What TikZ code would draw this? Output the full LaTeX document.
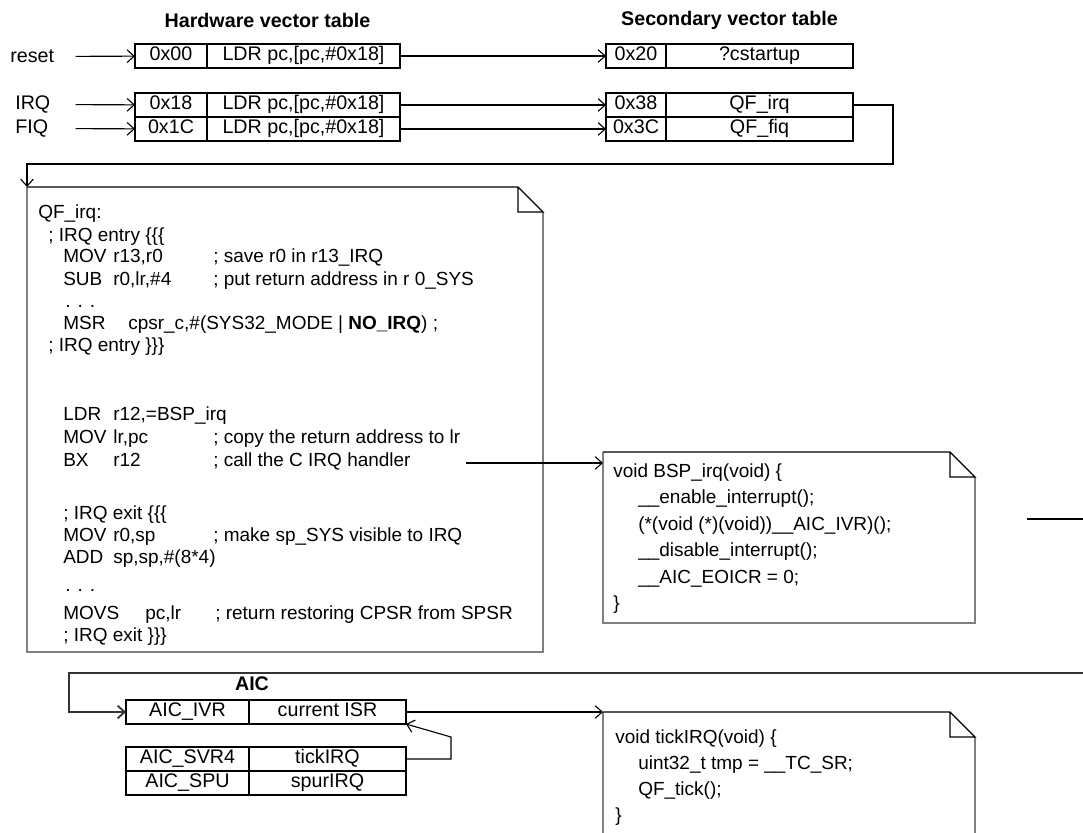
\documentclass[tikz,border=0pt]{standalone}
\usepackage{fontspec}
\setmainfont{Liberation Sans}
\usetikzlibrary{arrows.meta,positioning}

\newlength\pxl
\setlength\pxl{0.025cm}
\newcommand\op[2]{\makebox[#1\pxl][l]{#2}}
\definecolor{notegray}{gray}{0.5}
\definecolor{wiredark}{gray}{0.2}

% folded-corner outline of a note node
\newcommand\foldnote[1]{%
  \draw[line width=1pt,notegray] ([yshift=-25\pxl]#1.north east) -- (#1.south east) -- (#1.south west) -- (#1.north west);
  \draw[line width=0.9pt] (#1.north west) -- ([xshift=-25\pxl]#1.north east) -- ([yshift=-25\pxl]#1.north east)
    -- ([xshift=-25\pxl,yshift=-25\pxl]#1.north east) -- ([xshift=-25\pxl]#1.north east);
}

\tikzset{
  >={Straight Barb[length=5pt,width=9pt]},
  cell/.style={draw,line width=0.9pt,inner sep=0pt,outer sep=0pt,minimum height=24\pxl,
    text height=10pt,text depth=3pt,font=\fontsize{14}{16}\selectfont},
  title/.style={inner sep=0pt,font=\fontsize{14}{16}\selectfont\bfseries},
  lbl/.style={anchor=west,inner sep=0pt,align=left,font=\fontsize{14}{16}\selectfont},
  code/.style={anchor=base west,inner sep=0pt,font=\fontsize{13.5}{16}\selectfont},
  notebox/.style={inner sep=0pt,outer sep=0pt,anchor=north west},
  wire/.style={line width=0.8pt},
  aicwire/.style={line width=1.3pt,draw=wiredark},
}

\begin{document}
\begin{tikzpicture}[x=0.025cm,y=-0.025cm]
\useasboundingbox (0,0) rectangle (1083,833);

% vector tables
\node[title] (hwtitle) at (267.5,20) {Hardware vector table};
\node[title] (svtitle) at (729.5,20) {Secondary vector table};

\node[lbl,text width=65\pxl] (lreset) at (10,56.5) {reset};
\node[lbl,text width=60\pxl] (lirq) at (15,104.5) {IRQ};
\node[lbl,text width=60\pxl] (lfiq) at (15,128.5) {FIQ};

\node[cell,anchor=north west,minimum width=72\pxl] (hwa0) at (135,44) {0x00};
\node[cell,anchor=west,minimum width=193\pxl] (hwb0) at (hwa0.east) {LDR pc,[pc,\#0x18]};
\node[cell,anchor=north west,minimum width=72\pxl] (hwa1) at (135,93) {0x18};
\node[cell,anchor=west,minimum width=193\pxl] (hwb1) at (hwa1.east) {LDR pc,[pc,\#0x18]};
\node[cell,below=0pt of hwa1,minimum width=72\pxl] (hwa2) {0x1C};
\node[cell,below=0pt of hwb1,minimum width=193\pxl] (hwb2) {LDR pc,[pc,\#0x18]};

\node[cell,anchor=north west,minimum width=60\pxl] (sva0) at (606,44) {0x20};
\node[cell,anchor=west,minimum width=187\pxl] (svb0) at (sva0.east) {?cstartup};
\node[cell,anchor=north west,minimum width=60\pxl] (sva1) at (606,93) {0x38};
\node[cell,anchor=west,minimum width=187\pxl] (svb1) at (sva1.east) {QF\_irq};
\node[cell,below=0pt of sva1,minimum width=60\pxl] (sva2) {0x3C};
\node[cell,below=0pt of svb1,minimum width=187\pxl] (svb2) {QF\_fiq};

\draw[->,wire] (lreset) -- (hwa0);
\draw[->,wire] (lirq) -- (hwa1);
\draw[->,wire] (lfiq) -- (hwa2);
\draw[->,wire] (hwb0) -- (sva0);
\draw[->,wire] (hwb1) -- (sva1);
\draw[->,wire] (hwb2) -- (sva2);

% QF_irq note
\node[notebox,minimum width=516\pxl,minimum height=465\pxl] (qfnote) at (27,187) {};
\foldnote{qfnote}
\coordinate (qfturn) at (893,164);
\draw[->,wire] (svb1.east) -| (qfturn) -| (qfnote.north west);

\node[code] (qf1) at (38,219) {QF\_irq:};
\node[code] (qf2) at (48,241) {; IRQ entry \{\{\{};
\node[code] (qf3) at (63,263) {\op{50}{MOV}\op{100}{r13,r0}; save r0 in r13\_IRQ};
\node[code] (qf4) at (63,285) {\op{50}{SUB}\op{100}{r0,lr,\#4}; put return address in r 0\_SYS};
\node[code] (qf5) at (65,307) {. . .};
\node[code] (qf6) at (63,329) {\op{65}{MSR}cpsr\_c,\#(SYS32\_MODE | \textbf{NO\_IRQ}) ;};
\node[code] (qf7) at (48,351) {; IRQ entry \}\}\}};
\node[code] (qf8) at (63,420) {\op{50}{LDR}r12,=BSP\_irq};
\node[code] (qf9) at (63,443) {\op{50}{MOV}\op{100}{lr,pc}; copy the return address to lr};
\node[code] (qf10) at (63,466) {\op{50}{BX}\op{100}{r12}; call the C IRQ handler};
\node[code] (qf11) at (63,519) {; IRQ exit \{\{\{};
\node[code] (qf12) at (63,541) {\op{50}{MOV}\op{100}{r0,sp}; make sp\_SYS visible to IRQ};
\node[code] (qf13) at (63,563) {\op{50}{ADD}sp,sp,\#(8*4)};
\node[code] (qf14) at (65,591) {. . .};
\node[code] (qf15) at (63,619) {\op{82}{MOVS}\op{70}{pc,lr}; return restoring CPSR from SPSR};
\node[code] (qf16) at (63,641) {; IRQ exit \}\}\}};

% BSP_irq note
\node[notebox,minimum width=372\pxl,minimum height=171\pxl] (bspnote) at (603,452) {};
\foldnote{bspnote}
\coordinate (bxout) at (466,463);
\draw[->,wire] (bxout) -- (bxout -| bspnote.west);

\node[code] (bsp1) at (613,477) {void BSP\_irq(void) \{};
\node[code] (bsp2) at (638,503.5) {\_\_enable\_interrupt();};
\node[code] (bsp3) at (638,530) {(*(void (*)(void))\_\_AIC\_IVR)();};
\node[code] (bsp4) at (638,556.5) {\_\_disable\_interrupt();};
\node[code] (bsp5) at (638,583) {\_\_AIC\_EOICR = 0;};
\node[code] (bsp6) at (613,609.5) {\}};

\coordinate (aicret) at (1027,519);
\coordinate (aicretend) at (1083,519);
\draw[wire] (aicret) -- (aicretend);

% AIC
\node[title] (aictitle) at (252,684) {AIC};
\node[cell,anchor=north west,minimum width=123\pxl] (ivra) at (126,700) {AIC\_IVR};
\node[cell,anchor=west,minimum width=157\pxl] (ivrb) at (ivra.east) {current ISR};
\node[cell,anchor=north west,minimum width=123\pxl] (svr4a) at (126,747) {AIC\_SVR4};
\node[cell,anchor=west,minimum width=157\pxl] (svr4b) at (svr4a.east) {tickIRQ};
\node[cell,below=0pt of svr4a,minimum width=123\pxl] (spua) {AIC\_SPU};
\node[cell,below=0pt of svr4b,minimum width=157\pxl] (spub) {spurIRQ};

\coordinate (aicin) at (1083,673);
\coordinate (aicturn) at (69,673);
\draw[->,aicwire] (aicin) -- (aicturn) |- (ivra);
\draw[->,wire] (svr4b.east) -- ++(45,0) -- ++(0,-22) -- (ivrb.south east);

% tickIRQ note
\node[notebox,minimum width=372\pxl,minimum height=140\pxl] (ticknote) at (603,712) {};
\foldnote{ticknote}
\draw[->,wire] (ivrb.east) -- (ticknote.north west);

\node[code] (tick1) at (615,743) {void tickIRQ(void) \{};
\node[code] (tick2) at (638,769) {uint32\_t tmp = \_\_TC\_SR;};
\node[code] (tick3) at (638,795) {QF\_tick();};
\node[code] (tick4) at (615,821) {\}};
\end{tikzpicture}
\end{document}
